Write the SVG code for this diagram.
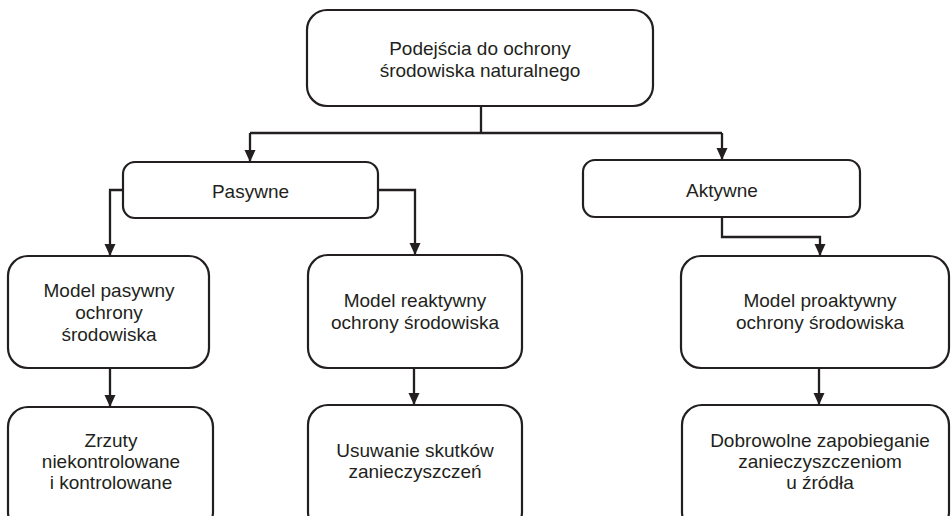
<svg xmlns="http://www.w3.org/2000/svg" width="951" height="516" viewBox="0 0 951 516">
  <style>
    .box { fill: #ffffff; stroke: #231f20; stroke-width: 2.2; }
    .lbl { font-family: "Liberation Sans", Arial, sans-serif; font-size: 19px; fill: #231f20; text-anchor: middle; }
    .wire { fill: none; stroke: #231f20; stroke-width: 2.3; }
  </style>
  <defs>
    <marker id="arrow" markerUnits="userSpaceOnUse" markerWidth="12" markerHeight="14" viewBox="0 0 12 14" refX="12" refY="7" orient="auto">
      <path d="M0,1.5 L12,7 L0,12.5 Z" fill="#231f20"/>
    </marker>
  </defs>

  <rect width="951" height="516" fill="#ffffff"/>

  <!-- connectors -->
  <g id="connectors">
    <path class="wire" d="M481,106 V133"/>
    <path class="wire" d="M250,133 H722"/>
    <path class="wire" marker-end="url(#arrow)" d="M250,133 V162"/>
    <path class="wire" marker-end="url(#arrow)" d="M722,133 V160"/>
    <path class="wire" marker-end="url(#arrow)" d="M123,190 H110 V256"/>
    <path class="wire" marker-end="url(#arrow)" d="M378,190 H415 V255"/>
    <path class="wire" marker-end="url(#arrow)" d="M722,217 V237 H820 V256"/>
    <path class="wire" marker-end="url(#arrow)" d="M110,368 V407"/>
    <path class="wire" marker-end="url(#arrow)" d="M414,368 V405"/>
    <path class="wire" marker-end="url(#arrow)" d="M819,368 V405"/>
  </g>

  <!-- root -->
  <g id="podejscia">
    <rect class="box" x="307" y="10" width="346" height="96" rx="20"/>
    <text class="lbl" x="480" y="55">Podejścia do ochrony</text>
    <text class="lbl" x="480" y="77">środowiska naturalnego</text>
  </g>

  <!-- level 1 -->
  <g id="pasywne">
    <rect class="box" x="123" y="162" width="255" height="56" rx="12"/>
    <text class="lbl" x="250.5" y="198">Pasywne</text>
  </g>
  <g id="aktywne">
    <rect class="box" x="583" y="160" width="277" height="57" rx="12"/>
    <text class="lbl" x="722" y="197">Aktywne</text>
  </g>

  <!-- level 2 -->
  <g id="model-pasywny">
    <rect class="box" x="8" y="256" width="201" height="112" rx="20"/>
    <text class="lbl" x="109" y="297">Model pasywny</text>
    <text class="lbl" x="109" y="319">ochrony</text>
    <text class="lbl" x="109" y="341">środowiska</text>
  </g>
  <g id="model-reaktywny">
    <rect class="box" x="308" y="255" width="214" height="113" rx="20"/>
    <text class="lbl" x="415" y="307">Model reaktywny</text>
    <text class="lbl" x="415" y="329">ochrony środowiska</text>
  </g>
  <g id="model-proaktywny">
    <rect class="box" x="681" y="256" width="268" height="112" rx="20"/>
    <text class="lbl" x="820" y="307">Model proaktywny</text>
    <text class="lbl" x="820" y="329">ochrony środowiska</text>
  </g>

  <!-- level 3 -->
  <g id="zrzuty">
    <rect class="box" x="8" y="407" width="205" height="125" rx="20"/>
    <text class="lbl" x="111" y="447">Zrzuty</text>
    <text class="lbl" x="111" y="468">niekontrolowane</text>
    <text class="lbl" x="111" y="489">i kontrolowane</text>
  </g>
  <g id="usuwanie">
    <rect class="box" x="308" y="405" width="214" height="127" rx="20"/>
    <text class="lbl" x="415" y="457">Usuwanie skutków</text>
    <text class="lbl" x="415" y="478">zanieczyszczeń</text>
  </g>
  <g id="dobrowolne">
    <rect class="box" x="682" y="405" width="267" height="127" rx="20"/>
    <text class="lbl" x="820" y="447">Dobrowolne zapobieganie</text>
    <text class="lbl" x="820" y="468">zanieczyszczeniom</text>
    <text class="lbl" x="820" y="489">u źródła</text>
  </g>
</svg>
